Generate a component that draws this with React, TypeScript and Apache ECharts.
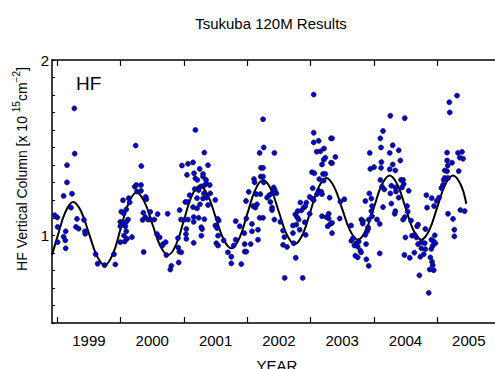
import React, { useEffect, useRef } from "react";
import * as echarts from "echarts";

const FONT = "'Liberation Sans', Arial, sans-serif";

const xTickYears = [1999, 2000, 2001, 2002, 2003, 2004, 2005];
const xLabelYears = [1999.5, 2000.5, 2001.5, 2002.5, 2003.5, 2004.5, 2005.5];
const yTickValues = [0.5, 0.6, 0.7, 0.8, 0.9, 1.0, 1.1, 1.2, 1.3, 1.4, 1.5, 1.6, 1.7, 1.8, 1.9, 2.0];
const yLabelValues = [1, 2];

const hf1999 = [
  [1999.269, 1.724], [1999.274, 1.466], [1999.153, 1.4], [1999.153, 1.302], [1999.1, 1.225],
  [1999.232, 1.237], [1999.216, 1.158], [1998.958, 1.115], [1999.0, 1.102], [1999.005, 1.048],
  [1999.311, 1.094], [1999.295, 1.048], [1999.337, 1.038], [1999.421, 1.088], [1999.437, 1.023],
  [1999.442, 1.009], [1999.132, 1.023], [1999.1, 0.992], [1999.126, 0.971], [1999.005, 0.961],
  [1999.132, 0.926], [1999.605, 0.892], [1999.637, 0.838], [1999.747, 0.83], [1999.895, 0.892],
  [1999.916, 0.834], [2000.011, 1.135], [1999.995, 1.077], [1999.995, 1.052], [1999.995, 0.961],
];

const hf2000 = [
  [2000.238, 1.512], [2000.327, 1.395], [2000.222, 1.277], [2000.248, 1.287], [2000.322, 1.287],
  [2000.259, 1.25], [2000.322, 1.254], [2000.396, 1.219], [2000.406, 1.206], [2000.038, 1.2],
  [2000.127, 1.212], [2000.143, 1.188], [2000.09, 1.148], [2000.048, 1.125], [2000.117, 1.09],
  [2000.09, 1.077], [2000.038, 1.071], [2000.075, 1.052], [2000.09, 1.023], [2000.054, 0.998],
  [2000.101, 0.98], [2000.18, 0.99], [2000.064, 0.965], [2000.359, 1.129], [2000.39, 1.104],
  [2000.348, 1.088], [2000.433, 1.09], [2000.469, 1.134], [2000.474, 1.09], [2000.533, 1.09],
  [2000.585, 1.121], [2000.743, 1.123], [2000.364, 0.905], [2000.575, 1.007], [2000.617, 0.988],
  [2000.669, 0.95], [2000.659, 0.942], [2000.711, 0.961], [2000.722, 0.888], [2000.801, 0.826],
  [2000.785, 0.805], [2000.911, 0.93], [2000.927, 0.907], [2000.959, 0.903], [2000.917, 0.845],
  [2000.906, 0.984], [2000.933, 1.144], [2000.954, 1.09], [2000.969, 1.398], [2001.064, 1.408],
  [2001.048, 1.345], [2001.022, 1.19], [2001.059, 1.19], [2001.011, 1.09], [2001.064, 1.09],
  [2001.038, 1.036], [2001.032, 1.007], [2001.038, 0.98], [2001.09, 1.229],
];

const hf2001 = [
  [2001.181, 1.601], [2001.323, 1.472], [2001.381, 1.4], [2001.144, 1.416], [2001.16, 1.354],
  [2001.249, 1.379], [2001.181, 1.325], [2001.212, 1.316], [2001.302, 1.35], [2001.302, 1.335],
  [2001.349, 1.316], [2001.354, 1.296], [2001.323, 1.285], [2001.265, 1.279], [2001.233, 1.258],
  [2001.17, 1.264], [2001.407, 1.287], [2001.317, 1.239], [2001.417, 1.239], [2001.36, 1.215],
  [2001.207, 1.212], [2001.302, 1.21], [2001.496, 1.202], [2001.144, 1.161], [2001.207, 1.154],
  [2001.254, 1.177], [2001.381, 1.173], [2001.154, 1.104], [2001.233, 1.1], [2001.323, 1.092],
  [2001.154, 1.077], [2001.275, 1.046], [2001.286, 1.036], [2001.275, 0.998], [2001.154, 0.957],
  [2001.533, 1.094], [2001.549, 1.084], [2001.496, 1.056], [2001.523, 1.042], [2001.539, 0.998],
  [2001.512, 0.955], [2001.539, 0.942], [2001.628, 0.971], [2001.696, 0.903], [2001.749, 0.878],
  [2001.749, 0.84], [2001.907, 0.836], [2001.786, 0.942], [2001.818, 1.081], [2001.818, 0.975],
  [2001.881, 1.052], [2001.954, 1.013], [2001.96, 0.95], [2001.96, 0.907], [2001.986, 0.907],
  [2001.986, 1.096], [2001.981, 1.196], [2002.023, 1.248], [2002.054, 0.95], [2002.075, 1.023],
  [2002.075, 1.065], [2002.091, 1.167], [2002.107, 1.321], [2002.117, 1.302], [2002.128, 1.158],
  [2002.144, 1.235], [2002.154, 1.177], [2002.17, 0.975], [2002.17, 1.032], [2002.196, 1.1],
  [2002.196, 1.47], [2002.207, 1.235], [2002.212, 1.335], [2002.217, 1.385],
];

const hf2002 = [
  [2002.25, 1.662], [2002.26, 1.501], [2002.429, 1.47], [2002.25, 1.385], [2002.25, 1.335],
  [2002.26, 1.302], [2002.418, 1.273], [2002.434, 1.26], [2002.46, 1.24], [2002.392, 1.24],
  [2002.35, 1.229], [2002.313, 1.215], [2002.366, 1.19], [2002.392, 1.158], [2002.392, 1.144],
  [2002.429, 1.09], [2002.25, 1.1], [2002.523, 1.077], [2002.566, 1.027], [2002.587, 0.99],
  [2002.566, 0.946], [2002.629, 0.934], [2002.723, 1.013], [2002.723, 1.056], [2002.776, 1.061],
  [2002.76, 1.119], [2002.797, 1.138], [2002.787, 1.104], [2002.813, 1.09], [2002.839, 1.187],
  [2002.855, 1.142], [2002.892, 1.158], [2002.934, 1.187], [2002.918, 1.167], [2002.829, 1.032],
  [2002.908, 1.075], [2002.923, 1.003], [2002.987, 1.123], [2002.987, 1.219], [2003.023, 1.21],
  [2003.05, 1.2], [2003.034, 1.269], [2003.023, 1.36], [2003.06, 1.354], [2003.05, 1.585],
  [2003.05, 1.53], [2003.05, 1.803], [2003.129, 1.539], [2003.097, 1.477], [2003.155, 1.479],
  [2003.213, 1.495], [2003.234, 1.443], [2003.208, 1.431], [2003.181, 1.404], [2003.197, 1.35],
  [2003.234, 1.35], [2003.139, 1.321], [2003.208, 1.312], [2003.129, 1.254], [2003.171, 1.248],
  [2003.181, 1.235], [2003.102, 1.235], [2003.302, 1.215], [2003.323, 1.414], [2003.323, 1.553],
  [2003.181, 1.109], [2003.25, 1.104], [2003.287, 1.123], [2003.287, 1.096], [2003.313, 1.065],
  [2003.271, 1.052], [2002.766, 0.872], [2002.592, 0.757], [2002.876, 0.757], [2002.734, 0.955],
];

const hf2003 = [
  [2004.261, 1.682], [2004.145, 1.595], [2004.103, 1.553], [2004.114, 1.501], [2004.298, 1.514],
  [2004.393, 1.485], [2004.251, 1.47], [2003.935, 1.47], [2004.419, 1.427], [2004.119, 1.418],
  [2004.298, 1.404], [2004.003, 1.389], [2003.945, 1.379], [2004.114, 1.385], [2004.251, 1.377],
  [2004.34, 1.37], [2004.429, 1.316], [2004.103, 1.316], [2004.129, 1.277], [2004.166, 1.262],
  [2004.277, 1.283], [2004.34, 1.273], [2004.35, 1.25], [2004.261, 1.239], [2004.393, 1.215],
  [2003.929, 1.239], [2003.961, 1.21], [2003.866, 1.196], [2003.972, 1.167], [2004.145, 1.161],
  [2004.277, 1.181], [2004.34, 1.138], [2004.33, 1.123], [2003.961, 1.138], [2003.34, 1.553],
  [2003.393, 1.447], [2003.34, 1.412], [2003.535, 1.206], [2003.472, 1.192], [2003.461, 1.096],
  [2003.34, 1.071], [2003.34, 1.013], [2003.64, 1.056], [2003.803, 1.09], [2003.829, 1.081],
  [2003.824, 1.067], [2003.908, 1.046], [2003.919, 1.09], [2003.866, 1.003], [2003.893, 1.023],
  [2003.908, 1.036], [2003.972, 1.109], [2004.05, 1.09], [2004.093, 1.065], [2003.645, 0.969],
  [2003.672, 0.984], [2003.693, 0.942], [2003.724, 0.955], [2003.745, 0.936], [2003.761, 0.965],
  [2003.877, 0.95], [2003.787, 0.913], [2003.798, 0.903], [2003.708, 0.884], [2003.745, 0.874],
  [2003.882, 0.863], [2003.919, 0.826], [2004.093, 0.897],
];

const hf2004 = [
  [2005.314, 1.797], [2005.193, 1.759], [2005.199, 1.701], [2004.488, 1.668], [2005.157, 1.472],
  [2005.33, 1.47], [2005.393, 1.476], [2005.235, 1.414], [2005.157, 1.427], [2005.357, 1.443],
  [2005.409, 1.437], [2005.167, 1.398], [2005.12, 1.37], [2005.157, 1.366], [2005.341, 1.366],
  [2005.12, 1.327], [2005.172, 1.327], [2005.104, 1.316], [2005.093, 1.287], [2005.067, 1.269],
  [2004.462, 1.316], [2004.472, 1.292], [2004.446, 1.273], [2004.551, 1.254], [2004.83, 1.229],
  [2004.914, 1.212], [2004.993, 1.196], [2005.03, 1.215], [2004.951, 1.167], [2004.841, 1.158],
  [2004.525, 1.167], [2004.535, 1.135], [2004.488, 1.104], [2004.462, 1.09], [2004.588, 1.084],
  [2004.699, 1.061], [2004.683, 1.052], [2005.172, 1.123], [2005.367, 1.144], [2005.435, 1.138],
  [2005.251, 1.094], [2005.272, 1.032], [2005.272, 0.994], [2004.814, 1.036], [2004.499, 0.988],
  [2004.604, 0.998], [2004.646, 1.003], [2004.672, 0.988], [2004.699, 0.95], [2004.751, 0.961],
  [2004.804, 0.955], [2004.909, 0.975], [2004.962, 1.0], [2004.946, 0.965], [2004.972, 0.955],
  [2004.93, 0.94], [2004.751, 0.926], [2004.814, 0.921], [2004.909, 0.923], [2004.483, 0.888],
  [2004.567, 0.872], [2004.641, 0.901], [2004.735, 0.878], [2004.788, 0.892], [2004.893, 0.874],
  [2004.92, 0.849], [2004.93, 0.83], [2004.883, 0.805], [2004.946, 0.801], [2004.72, 0.772],
  [2004.867, 0.672],
];

const fitCurve = [
  [1998.916, 0.888], [1999.0, 0.99], [1999.125, 1.131], [1999.25, 1.19], [1999.375, 1.137],
  [1999.5, 1.01], [1999.625, 0.883], [1999.75, 0.83], [1999.875, 0.891], [2000.0, 1.037],
  [2000.125, 1.183], [2000.25, 1.244], [2000.375, 1.192], [2000.5, 1.066], [2000.625, 0.94],
  [2000.75, 0.888], [2000.875, 0.946], [2001.0, 1.086], [2001.125, 1.226], [2001.25, 1.283],
  [2001.375, 1.231], [2001.5, 1.105], [2001.625, 0.978], [2001.75, 0.926], [2001.875, 0.983],
  [2002.0, 1.121], [2002.125, 1.258], [2002.25, 1.315], [2002.375, 1.262], [2002.5, 1.133],
  [2002.625, 1.004], [2002.75, 0.95], [2002.875, 1.005], [2003.0, 1.139], [2003.125, 1.272],
  [2003.25, 1.327], [2003.375, 1.275], [2003.5, 1.151], [2003.625, 1.027], [2003.75, 0.975],
  [2003.875, 1.029], [2004.0, 1.158], [2004.125, 1.287], [2004.25, 1.341], [2004.375, 1.287],
  [2004.5, 1.158], [2004.625, 1.029], [2004.75, 0.975], [2004.875, 1.029], [2005.0, 1.158],
  [2005.125, 1.287], [2005.25, 1.341], [2005.375, 1.287], [2005.46, 1.18],
];

const allObs = [...hf1999, ...hf2000, ...hf2001, ...hf2002, ...hf2003, ...hf2004];

export default function App() {
  const ref = useRef<HTMLDivElement>(null);
  useEffect(() => {
    document.body.style.margin = "0";
    const chart = echarts.init(ref.current!, undefined, { renderer: "svg" });
    const axisLine = { show: true, lineStyle: { color: "#000", width: 1.5 } };
    const xMin = 1998.916;
    const xMax = 2005.914;
    chart.setOption({
      animation: false,
      backgroundColor: "#fff",
      grid: { left: 52, top: 60, right: 0, bottom: 46 },
      xAxis: [
        {
          type: "value",
          position: "bottom",
          min: xMin,
          max: xMax,
          axisLine,
          axisTick: { show: true, inside: true, length: 6, customValues: xTickYears, lineStyle: { color: "#000", width: 1.2 } },
          axisLabel: {
            show: true,
            customValues: xLabelYears,
            formatter: (v: number) => String(Math.floor(v)),
            fontSize: 15,
            color: "#000",
            fontFamily: FONT,
            margin: 10,
          },
          splitLine: { show: false },
        },
        {
          type: "value",
          position: "top",
          min: xMin,
          max: xMax,
          axisLine,
          axisTick: { show: true, inside: true, length: 6, customValues: xTickYears, lineStyle: { color: "#000", width: 1.2 } },
          axisLabel: { show: false },
          splitLine: { show: false },
        },
      ],
      yAxis: {
        type: "value",
        min: 0.5,
        max: 2,
        axisLine,
        axisTick: { show: true, inside: true, length: 3, customValues: yTickValues, lineStyle: { color: "#000", width: 1 } },
        axisLabel: {
          show: true,
          customValues: yLabelValues,
          formatter: (v: number) => String(Math.round(v)),
          fontSize: 15,
          color: "#000",
          fontFamily: FONT,
          margin: 3,
        },
        splitLine: { show: false },
      },
      series: [
        {
          type: "line",
          data: fitCurve,
          smooth: 0.4,
          showSymbol: false,
          lineStyle: { color: "#000", width: 2 },
          z: 2,
        },
        {
          type: "scatter",
          data: allObs,
          symbolSize: 5,
          itemStyle: { color: "#0000d8", borderColor: "#1a1a1a", borderWidth: 0.7, opacity: 1 },
          z: 3,
        },
      ],
      graphic: [
        {
          type: "text",
          x: 271,
          y: 23,
          style: { text: "Tsukuba 120M Results", fontSize: 15, fontFamily: FONT, fill: "#000", align: "center", verticalAlign: "middle" },
        },
        {
          type: "text",
          x: 76,
          y: 83,
          style: { text: "HF", fontSize: 19, fontFamily: FONT, fill: "#000", align: "left", verticalAlign: "middle" },
        },
        {
          type: "text",
          x: 277,
          y: 365,
          style: { text: "YEAR", fontSize: 15, fontFamily: FONT, fill: "#000", align: "center", verticalAlign: "middle" },
        },
        {
          type: "text",
          x: 22,
          y: 169,
          rotation: Math.PI / 2,
          style: {
            text: "HF Vertical Column [x 10 {sup|15}cm{sup|−2}]",
            fontSize: 14,
            fontFamily: FONT,
            fill: "#000",
            align: "center",
            verticalAlign: "middle",
            lineHeight: 22,
            rich: {
              sup: { fontSize: 10, fontFamily: FONT, fill: "#000", verticalAlign: "top" },
            },
          },
        },
      ],
    });
    return () => chart.dispose();
  }, []);
  return <div ref={ref} style={{ width: 495, height: 369 }} />;
}
